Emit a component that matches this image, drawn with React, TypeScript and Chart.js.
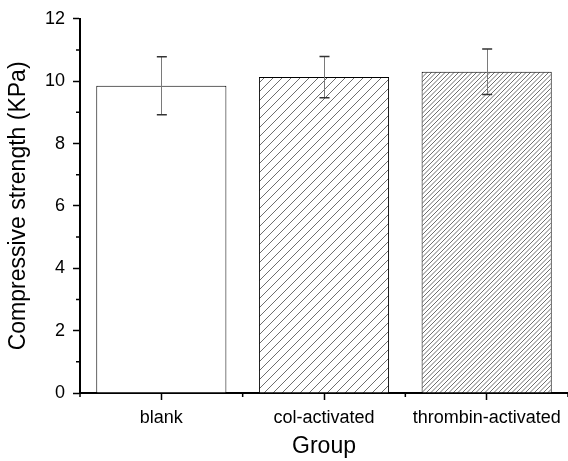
import React, { useEffect, useRef } from "react";
import { Chart, registerables } from "chart.js";

Chart.register(...registerables);

const categories = ["blank", "col-activated", "thrombin-activated"];
const means = [9.85, 10.13, 10.3];
const errors = [0.93, 0.66, 0.73];
const yTicks = [0, 2, 4, 6, 8, 10, 12];
const yMinorTicks = [1, 3, 5, 7, 9, 11];
const hatchSpacing = [0, 9, 4.5];

const FONT = "'Liberation Sans', Arial, sans-serif";

function makeHatch(spacing: number): CanvasPattern | string {
  if (!spacing) return "#ffffff";
  const s = Math.round(spacing * 2);
  const c = document.createElement("canvas");
  c.width = s;
  c.height = s;
  const ctx = c.getContext("2d")!;
  ctx.fillStyle = "#ffffff";
  ctx.fillRect(0, 0, s, s);
  ctx.strokeStyle = "#5e5e5e";
  ctx.lineWidth = 0.9;
  ctx.beginPath();
  for (let k = -2; k <= 4; k++) {
    const off = k * (s / 2);
    ctx.moveTo(off - s, s + s);
    ctx.lineTo(off + s + s, -s);
  }
  ctx.stroke();
  const p = ctx.createPattern(c, "repeat")!;
  return p;
}

const extrasPlugin = {
  id: "extras",
  afterDatasetsDraw(chart: any) {
    const ctx = chart.ctx;
    const y = chart.scales.y;
    const meta = chart.getDatasetMeta(0);
    ctx.save();
    meta.data.forEach((bar: any, i: number) => {
      const x = bar.x;
      const top = y.getPixelForValue(means[i] + errors[i]);
      const bot = y.getPixelForValue(means[i] - errors[i]);
      ctx.strokeStyle = "#7a7a7a";
      ctx.lineWidth = 1;
      ctx.beginPath();
      ctx.moveTo(Math.round(x) + 0.5, top);
      ctx.lineTo(Math.round(x) + 0.5, bot);
      ctx.stroke();
      ctx.strokeStyle = "#333333";
      ctx.lineWidth = 1.5;
      ctx.beginPath();
      ctx.moveTo(x - 4.5, top);
      ctx.lineTo(x + 5.5, top);
      ctx.moveTo(x - 4.5, bot);
      ctx.lineTo(x + 5.5, bot);
      ctx.stroke();
    });
    ctx.restore();
  },
  afterDraw(chart: any) {
    const ctx = chart.ctx;
    const y = chart.scales.y;
    const area = chart.chartArea;
    ctx.save();
    ctx.strokeStyle = "#000000";
    ctx.lineWidth = 1.5;
    ctx.beginPath();
    yMinorTicks.forEach((v) => {
      const py = y.getPixelForValue(v);
      ctx.moveTo(area.left - 4, py);
      ctx.lineTo(area.left, py);
    });
    for (let i = 0; i <= categories.length; i++) {
      const px = area.left + ((area.right - area.left) * i) / categories.length;
      ctx.moveTo(px, area.bottom);
      ctx.lineTo(px, area.bottom + 4);
    }
    ctx.stroke();
    ctx.restore();
  },
};

export default function App() {
  const ref = useRef<HTMLCanvasElement>(null);
  useEffect(() => {
    const canvas = ref.current!;
    const chart = new Chart(canvas, {
      type: "bar",
      data: {
        labels: categories,
        datasets: [
          {
            data: means,
            backgroundColor: hatchSpacing.map((s) => makeHatch(s)) as any,
            borderColor: "#000000",
            borderWidth: 1,
            barPercentage: 0.8,
            categoryPercentage: 1.0,
          },
        ],
      },
      options: {
        animation: false,
        responsive: false,
        maintainAspectRatio: false,
        devicePixelRatio: 1,
        layout: { padding: { top: 17, left: 0, right: 0, bottom: 0 } },
        plugins: {
          legend: { display: false },
          tooltip: { enabled: false },
        },
        scales: {
          x: {
            type: "category",
            offset: true,
            grid: {
              display: true,
              offset: false,
              drawOnChartArea: false,
              drawTicks: true,
              tickLength: 7,
              tickWidth: 1.5,
              tickColor: "#000000",
            },
            border: { display: true, color: "#000000", width: 2 },
            ticks: {
              color: "#000000",
              font: { family: FONT, size: 18 },
              padding: 7,
              maxRotation: 0,
              autoSkip: false,
            },
            title: {
              display: true,
              text: "Group",
              color: "#000000",
              font: { family: FONT, size: 23 },
              padding: { top: 0, bottom: 1 },
            },
            afterFit(scale: any) {
              scale.height = 68;
            },
          },
          y: {
            min: 0,
            max: 12,
            afterBuildTicks(scale: any) {
              scale.ticks = yTicks.map((v) => ({ value: v }));
            },
            grid: {
              display: true,
              drawOnChartArea: false,
              drawTicks: true,
              tickLength: 7,
              tickWidth: 1.5,
              tickColor: "#000000",
            },
            border: { display: true, color: "#000000", width: 2 },
            ticks: {
              color: "#000000",
              font: { family: FONT, size: 18 },
              padding: 8,
            },
            title: {
              display: true,
              text: "Compressive strength (KPa)",
              color: "#000000",
              font: { family: FONT, size: 23 },
              padding: { top: 5, bottom: 0 },
            },
            afterFit(scale: any) {
              scale.width = 80;
            },
          },
        },
      },
      plugins: [extrasPlugin],
    } as any);
    return () => chart.destroy();
  }, []);
  return (
    <div style={{ position: "fixed", left: 0, top: 0, width: 568, height: 461, background: "#ffffff" }}>
      <canvas ref={ref} width={568} height={461} style={{ width: 568, height: 461, display: "block" }} />
    </div>
  );
}
